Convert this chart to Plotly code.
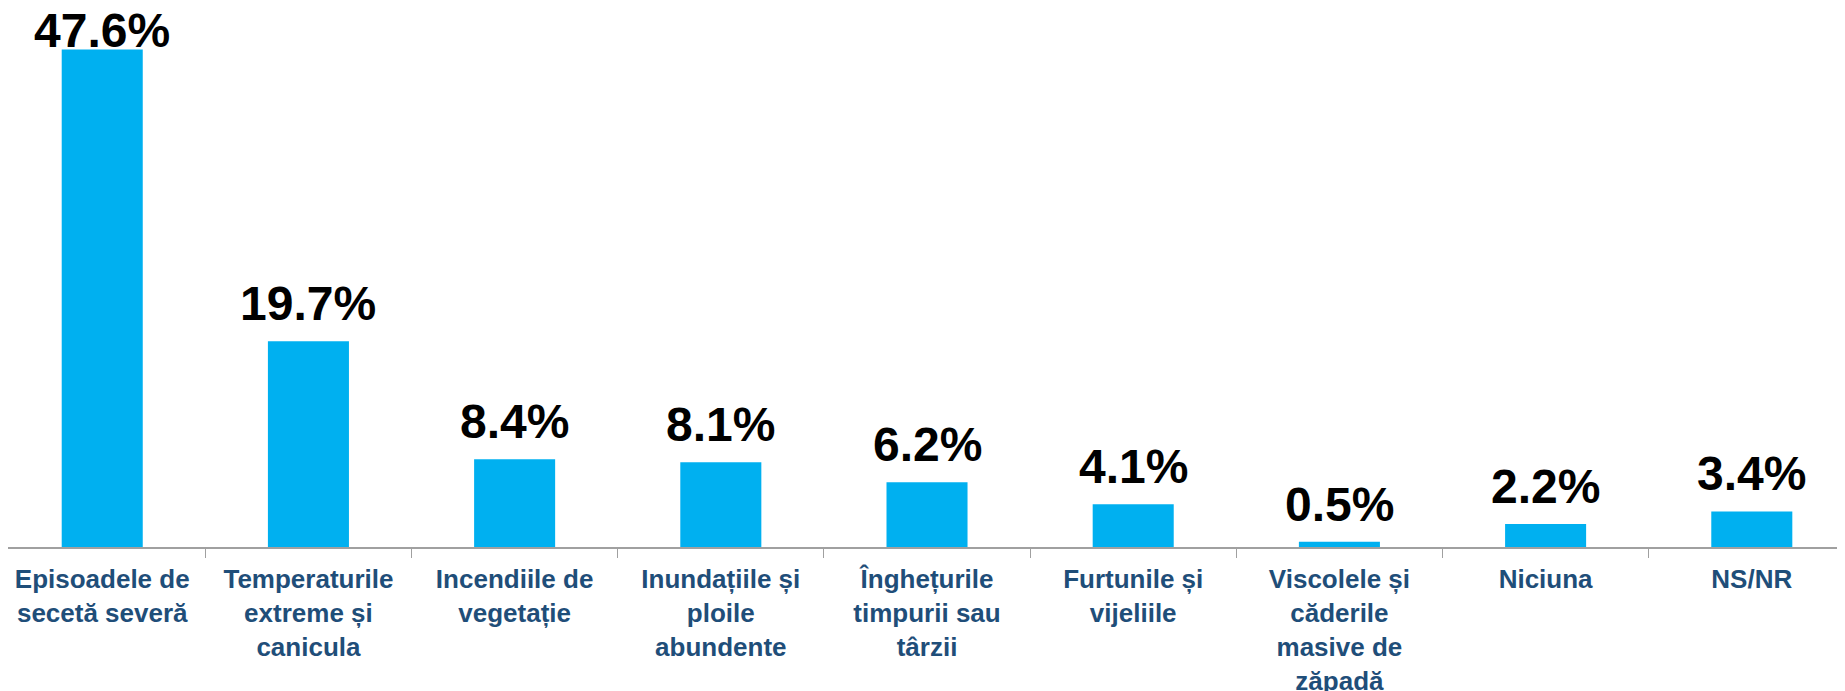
import plotly.graph_objects as go

categories = [
    "Episoadele de<br>secetă severă",
    "Temperaturile<br>extreme și<br>canicula",
    "Incendiile de<br>vegetație",
    "Inundațiile și<br>ploile<br>abundente",
    "Înghețurile<br>timpurii sau<br>târzii",
    "Furtunile și<br>vijeliile",
    "Viscolele și<br>căderile<br>masive de<br>zăpadă",
    "Niciuna",
    "NS/NR",
]
values = [47.6, 19.7, 8.4, 8.1, 6.2, 4.1, 0.5, 2.2, 3.4]

FONT = "Liberation Sans, Arial"
Y_TOP = 51.58          # top of the y range
PX_PER_UNIT = 539 / Y_TOP

fig = go.Figure(go.Bar(
    x=categories, y=values,
    marker=dict(color="#00B0F0", line=dict(width=0)),
    hoverinfo="skip",
))

# value labels above bars, pulled down where they would leave the chart
for cat, v in zip(categories, values):
    headroom = (Y_TOP - v) * PX_PER_UNIT
    shift = min(9, headroom - 51)
    fig.add_annotation(
        x=cat, y=v, text=f"{v:.1f}%", showarrow=False,
        yanchor="bottom", yshift=shift,
        font=dict(family=FONT, size=48, color="black", weight="bold"),
    )

# the page body adds 8px at top/left, so the figure is 8px smaller
fig.update_layout(
    width=1837, height=683,
    margin=dict(l=0, r=0, t=0, b=144),
    plot_bgcolor="white", paper_bgcolor="white",
    bargap=0.607,
    showlegend=False,
)
fig.update_xaxes(
    range=[-0.457, 8.452],
    automargin=False,
    showline=True, linecolor="#A0A0A0", linewidth=2,
    ticks="outside", tickson="boundaries", ticklen=9, tickcolor="#A0A0A0",
    ticklabelstandoff=8,
    tickfont=dict(family=FONT, size=26, color="#1F4E79", weight="bold"),
    showgrid=False,
)
fig.update_yaxes(range=[0, Y_TOP], visible=False, showgrid=False, automargin=False)

fig.write_html("out.html")
